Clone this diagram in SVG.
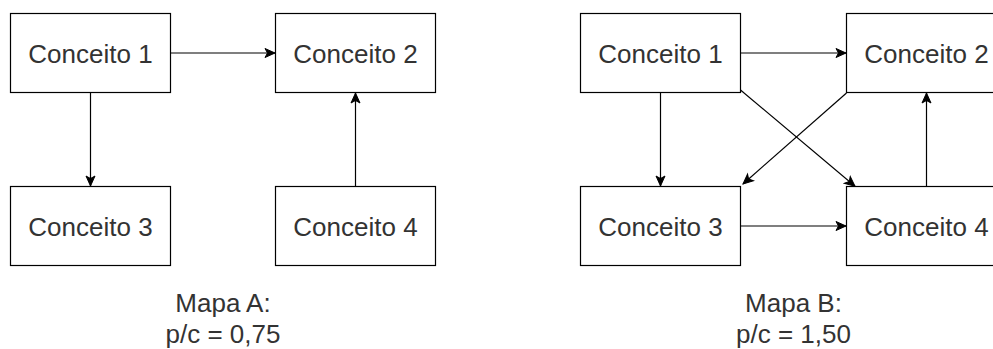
<svg xmlns="http://www.w3.org/2000/svg" width="993" height="349" viewBox="0 0 993 349">
<style>
.box{fill:#fff;stroke:#000;stroke-width:1.2}
.lbl{font-family:"Liberation Sans",Arial,sans-serif;font-size:26px;fill:#333;text-anchor:middle}
.edge{fill:none;stroke:#000;stroke-width:1.2;marker-end:url(#arr)}
</style>
<defs>
<marker id="arr" markerUnits="userSpaceOnUse" viewBox="-1 -6 12 12" refX="10" refY="0" markerWidth="12" markerHeight="12" orient="auto">
<path d="M0,-4.5 L10,0 L0,4.5 L2.5,0 Z" fill="#000" stroke="#000" stroke-width="1"/>
</marker>
</defs>
<rect width="993" height="349" fill="#fff"/>
<g id="connectors">
<path class="edge" d="M170.5,53 H275"/>
<path class="edge" d="M90.5,92.5 V186"/>
<path class="edge" d="M355.5,186.5 V93"/>
<path class="edge" d="M740.5,53 H846"/>
<path class="edge" d="M660.5,92.5 V186"/>
<path class="edge" d="M926.5,186.5 V93"/>
<path class="edge" d="M740.5,226 H846"/>
<path class="edge" d="M740.5,90 L855,186.3"/>
<path class="edge" d="M846.5,93 L743,184"/>
</g>
<g id="a1"><rect class="box" x="10.5" y="13.5" width="160" height="79"/><text class="lbl" x="90.5" y="62.5">Conceito 1</text></g>
<g id="a2"><rect class="box" x="275.5" y="13.5" width="160" height="79"/><text class="lbl" x="355.5" y="62.5">Conceito 2</text></g>
<g id="a3"><rect class="box" x="10.5" y="186.5" width="160" height="79"/><text class="lbl" x="90.5" y="235.5">Conceito 3</text></g>
<g id="a4"><rect class="box" x="275.5" y="186.5" width="160" height="79"/><text class="lbl" x="355.5" y="235.5">Conceito 4</text></g>
<g id="labelA"><text class="lbl" x="223" y="312">Mapa A:</text><text class="lbl" x="223" y="343">p/c = 0,75</text></g>
<g id="b1"><rect class="box" x="580.5" y="13.5" width="160" height="79"/><text class="lbl" x="660.5" y="62.5">Conceito 1</text></g>
<g id="b2"><rect class="box" x="846.5" y="13.5" width="160" height="79"/><text class="lbl" x="926.5" y="62.5">Conceito 2</text></g>
<g id="b3"><rect class="box" x="580.5" y="186.5" width="160" height="79"/><text class="lbl" x="660.5" y="235.5">Conceito 3</text></g>
<g id="b4"><rect class="box" x="846.5" y="186.5" width="160" height="79"/><text class="lbl" x="926.5" y="235.5">Conceito 4</text></g>
<g id="labelB"><text class="lbl" x="793.5" y="312">Mapa B:</text><text class="lbl" x="793.5" y="343">p/c = 1,50</text></g>
</svg>
